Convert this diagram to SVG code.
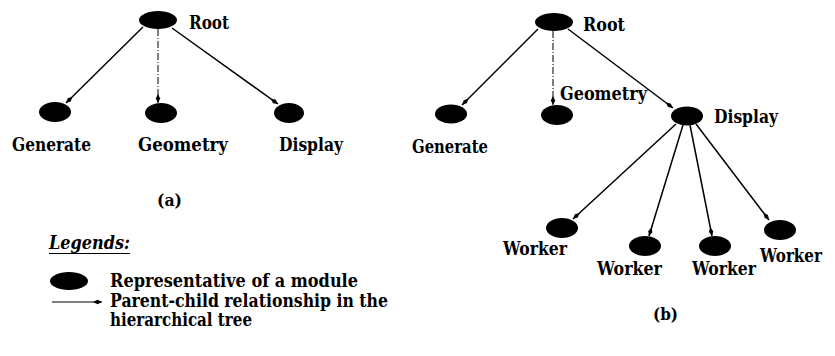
<svg xmlns="http://www.w3.org/2000/svg" width="835" height="356" viewBox="0 0 835 356">
  <style>
    .node { fill: #000; }
    .lbl { font-family: "DejaVu Serif", "Liberation Serif", serif; font-weight: bold; font-size: 18px; fill: #000; }
    .cap { font-family: "DejaVu Serif", "Liberation Serif", serif; font-weight: bold; font-size: 17px; fill: #000; }
    .edge { stroke: #000; stroke-width: 1.5; fill: none; marker-end: url(#tip); }
    .dash { stroke: #000; stroke-width: 1; fill: none; stroke-dasharray: 7 2 1 2; marker-end: url(#tip); }
  </style>
  <defs>
    <marker id="tip" viewBox="0 0 10 6" refX="10" refY="3" markerWidth="9" markerHeight="5.4" markerUnits="userSpaceOnUse" orient="auto">
      <path d="M0,3 L5,0.6 L10,3 L5,5.4 Z" fill="#000"/>
    </marker>
  </defs>
  <rect width="835" height="356" fill="#fff"/>

  <!-- connectors -->
  <g id="connectors">
    <!-- tree (a) -->
    <line class="edge" x1="143" y1="27" x2="66" y2="103"/>
    <line class="dash" x1="158" y1="29" x2="158" y2="103"/>
    <line class="edge" x1="172" y1="28" x2="278" y2="104"/>
    <!-- tree (b) -->
    <line class="edge" x1="538" y1="29" x2="462" y2="105"/>
    <line class="dash" x1="553" y1="31" x2="553" y2="105"/>
    <line class="edge" x1="568" y1="29" x2="673" y2="108"/>
    <line class="edge" x1="676" y1="124" x2="573" y2="219"/>
    <line class="edge" x1="683" y1="125" x2="649" y2="236"/>
    <line class="edge" x1="690" y1="125" x2="712" y2="236"/>
    <line class="edge" x1="696" y1="124" x2="769" y2="220"/>
  </g>

  <!-- tree (a) -->
  <g id="a-root">
    <ellipse class="node" cx="158" cy="20" rx="19" ry="9"/>
    <text class="lbl" x="189" y="29" textLength="40" lengthAdjust="spacingAndGlyphs">Root</text>
  </g>
  <g id="a-generate">
    <ellipse class="node" cx="55" cy="112" rx="16" ry="10"/>
    <text class="lbl" x="12" y="151" textLength="79" lengthAdjust="spacingAndGlyphs">Generate</text>
  </g>
  <g id="a-geometry">
    <ellipse class="node" cx="161" cy="113" rx="16" ry="10"/>
    <text class="lbl" x="138" y="151" textLength="90" lengthAdjust="spacingAndGlyphs">Geometry</text>
  </g>
  <g id="a-display">
    <ellipse class="node" cx="289" cy="113" rx="15" ry="10"/>
    <text class="lbl" x="279" y="151" textLength="64" lengthAdjust="spacingAndGlyphs">Display</text>
  </g>
  <text class="cap" x="157" y="206" textLength="25" lengthAdjust="spacingAndGlyphs">(a)</text>

  <!-- legend -->
  <g id="legend">
    <text class="lbl" x="49" y="249" font-style="italic" font-weight="normal" textLength="81" lengthAdjust="spacingAndGlyphs">Legends:</text>
    <line x1="49" y1="253.5" x2="130" y2="253.5" stroke="#000" stroke-width="1.2"/>
    <ellipse class="node" cx="69" cy="281" rx="19" ry="9"/>
    <text class="lbl" x="110" y="287" textLength="248" lengthAdjust="spacingAndGlyphs">Representative of a module</text>
    <line class="edge" x1="52" y1="302" x2="102" y2="302" style="stroke-width:1"/>
    <text class="lbl" x="110" y="307" textLength="278" lengthAdjust="spacingAndGlyphs">Parent-child relationship in the</text>
    <text class="lbl" x="110" y="326" textLength="142" lengthAdjust="spacingAndGlyphs">hierarchical tree</text>
  </g>

  <!-- tree (b) -->
  <g id="b-root">
    <ellipse class="node" cx="554" cy="22" rx="19" ry="9"/>
    <text class="lbl" x="583" y="31" textLength="42" lengthAdjust="spacingAndGlyphs">Root</text>
  </g>
  <g id="b-generate">
    <ellipse class="node" cx="451" cy="114" rx="16" ry="9.5"/>
    <text class="lbl" x="412" y="153" textLength="76" lengthAdjust="spacingAndGlyphs">Generate</text>
  </g>
  <g id="b-geometry">
    <ellipse class="node" cx="557" cy="115" rx="16" ry="10"/>
    <text class="lbl" x="560" y="100" textLength="87" lengthAdjust="spacingAndGlyphs">Geometry</text>
  </g>
  <g id="b-display">
    <ellipse class="node" cx="687" cy="116" rx="16" ry="9.5"/>
    <text class="lbl" x="714" y="123" textLength="64" lengthAdjust="spacingAndGlyphs">Display</text>
  </g>
  <g id="b-worker1">
    <ellipse class="node" cx="562" cy="228" rx="16" ry="10"/>
    <text class="lbl" x="503" y="255" textLength="64" lengthAdjust="spacingAndGlyphs">Worker</text>
  </g>
  <g id="b-worker2">
    <ellipse class="node" cx="645" cy="246" rx="16" ry="10"/>
    <text class="lbl" x="597" y="275" textLength="65" lengthAdjust="spacingAndGlyphs">Worker</text>
  </g>
  <g id="b-worker3">
    <ellipse class="node" cx="715" cy="246" rx="16" ry="10"/>
    <text class="lbl" x="692" y="275" textLength="64" lengthAdjust="spacingAndGlyphs">Worker</text>
  </g>
  <g id="b-worker4">
    <ellipse class="node" cx="780" cy="230" rx="16" ry="10"/>
    <text class="lbl" x="760" y="262" font-size="17" textLength="62" lengthAdjust="spacingAndGlyphs">Worker</text>
  </g>
  <text class="cap" x="653" y="320" textLength="25" lengthAdjust="spacingAndGlyphs">(b)</text>
</svg>
